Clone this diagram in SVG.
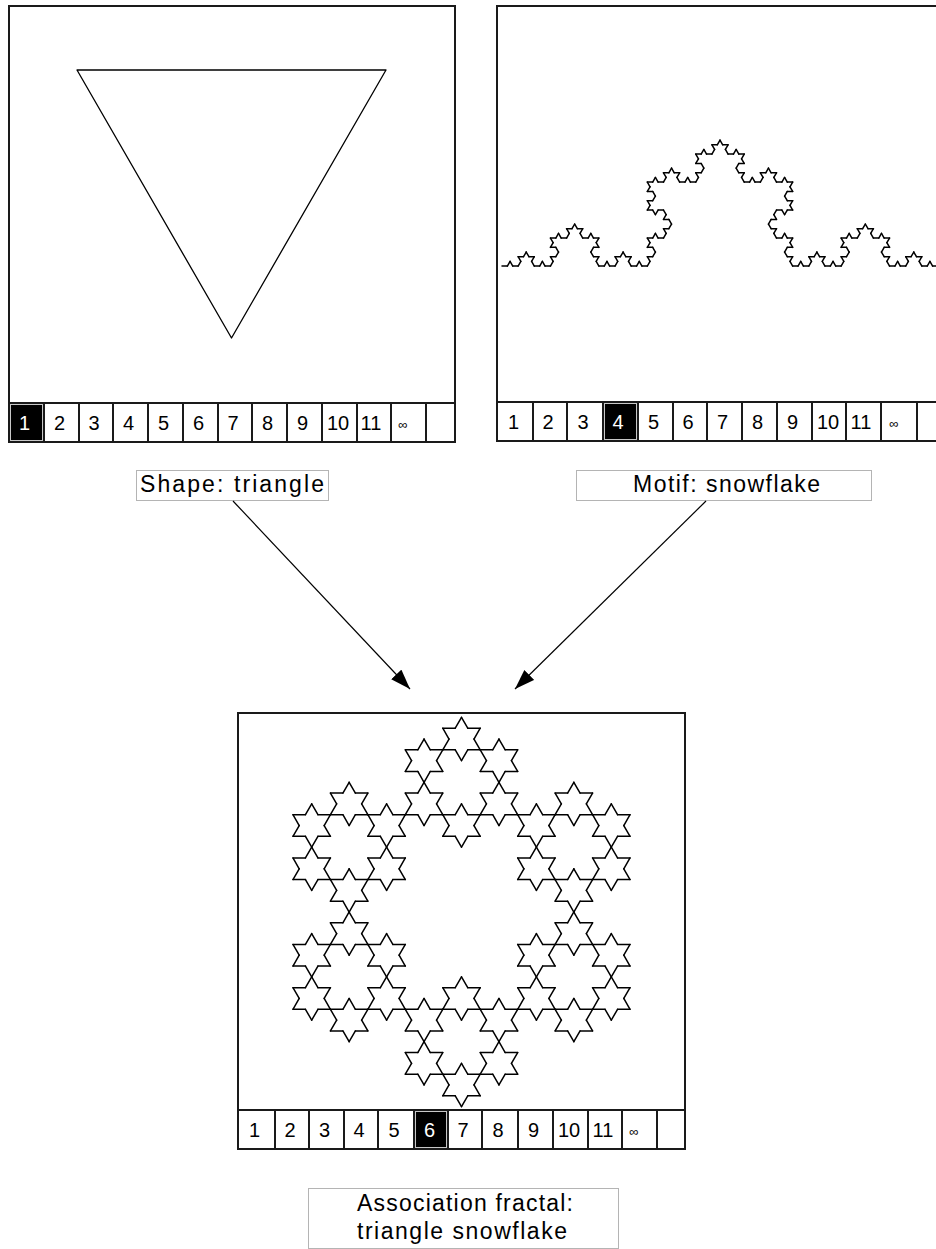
<svg xmlns="http://www.w3.org/2000/svg" xmlns:xlink="http://www.w3.org/1999/xlink" width="936" height="1249" viewBox="0 0 936 1249">
<style>
.panel{fill:#fff;stroke:#1a1a1a;stroke-width:2}
.bar{fill:#fff;stroke:#1a1a1a;stroke-width:2}
.div{stroke:#1a1a1a;stroke-width:2;fill:none}
.sel{fill:#000;stroke:#c8c8c8;stroke-width:1}
.num{font-family:"Liberation Sans",Arial,sans-serif;font-size:20px;fill:#000;text-anchor:middle}
.w{fill:#fff}
.inf{font-size:13px}
.lbl{fill:#fff;stroke:#b4b4b4;stroke-width:1}
.lt{font-family:"Liberation Sans",Arial,sans-serif;font-size:23px;fill:#000}
.fr{fill:none;stroke:#000;stroke-width:1.3;stroke-linecap:round;stroke-linejoin:round}
.ns{fill:none;stroke:#000;stroke-width:1.5;stroke-linecap:round;vector-effect:non-scaling-stroke}
.con{stroke:#000;stroke-width:1.2;fill:none}
</style>
<defs>
<marker id="ah" markerUnits="userSpaceOnUse" markerWidth="22" markerHeight="16" refX="20" refY="7" orient="auto">
<path d="M0 0L20 7L0 14Z" fill="#000"/>
</marker>
<g id="k0"><path class="ns" d="M0 0H1"/></g>
<g id="k1"><use href="#k0" transform="scale(.3333333)"/><use href="#k0" transform="translate(.3333333 0) rotate(-60) scale(.3333333)"/><use href="#k0" transform="translate(.5 -.2886751) rotate(60) scale(.3333333)"/><use href="#k0" transform="translate(.6666667 0) scale(.3333333)"/></g>
<g id="k2"><use href="#k1" transform="scale(.3333333)"/><use href="#k1" transform="translate(.3333333 0) rotate(-60) scale(.3333333)"/><use href="#k1" transform="translate(.5 -.2886751) rotate(60) scale(.3333333)"/><use href="#k1" transform="translate(.6666667 0) scale(.3333333)"/></g>
<g id="k3"><use href="#k2" transform="scale(.3333333)"/><use href="#k2" transform="translate(.3333333 0) rotate(-60) scale(.3333333)"/><use href="#k2" transform="translate(.5 -.2886751) rotate(60) scale(.3333333)"/><use href="#k2" transform="translate(.6666667 0) scale(.3333333)"/></g>
<g id="k4"><use href="#k3" transform="scale(.3333333)"/><use href="#k3" transform="translate(.3333333 0) rotate(-60) scale(.3333333)"/><use href="#k3" transform="translate(.5 -.2886751) rotate(60) scale(.3333333)"/><use href="#k3" transform="translate(.6666667 0) scale(.3333333)"/></g>
<g id="star"><use href="#k1" transform="translate(-.8660254 -.5) scale(1.7320508)"/><use href="#k1" transform="translate(.8660254 -.5) rotate(120) scale(1.7320508)"/><use href="#k1" transform="translate(0 1) rotate(-120) scale(1.7320508)"/></g>
<g id="ring1"><use href="#star" transform="translate(0 -.6666667) scale(.3333333)"/><use href="#star" transform="translate(.5773503 -.3333333) scale(.3333333)"/><use href="#star" transform="translate(.5773503 .3333333) scale(.3333333)"/><use href="#star" transform="translate(0 .6666667) scale(.3333333)"/><use href="#star" transform="translate(-.5773503 .3333333) scale(.3333333)"/><use href="#star" transform="translate(-.5773503 -.3333333) scale(.3333333)"/></g>
<g id="ring2"><use href="#ring1" transform="translate(0 -.6666667) scale(.3333333)"/><use href="#ring1" transform="translate(.5773503 -.3333333) scale(.3333333)"/><use href="#ring1" transform="translate(.5773503 .3333333) scale(.3333333)"/><use href="#ring1" transform="translate(0 .6666667) scale(.3333333)"/><use href="#ring1" transform="translate(-.5773503 .3333333) scale(.3333333)"/><use href="#ring1" transform="translate(-.5773503 -.3333333) scale(.3333333)"/></g>
<clipPath id="clipR"><rect x="498" y="7" width="444" height="394"/></clipPath>
</defs>
<rect width="936" height="1249" fill="#fff"/>

<g id="shape-panel">
<rect class="panel" x="9" y="6" width="446" height="436"/>
<path class="fr" d="M77 70H386L231.5 338Z"/>
<rect class="bar" x="9" y="403" width="446" height="39"/>
<path class="div" d="M44 403V442M79 403V442M113 403V442M148 403V442M183 403V442M218 403V442M252 403V442M287 403V442M322 403V442M357 403V442M391 403V442M426 403V442"/>
<rect class="sel" x="10.5" y="404.5" width="32" height="36"/>
<text class="num w" x="24.5" y="430">1</text>
<text class="num" x="59.5" y="430">2</text>
<text class="num" x="94" y="430">3</text>
<text class="num" x="128.5" y="430">4</text>
<text class="num" x="163.5" y="430">5</text>
<text class="num" x="198.5" y="430">6</text>
<text class="num" x="233" y="430">7</text>
<text class="num" x="267.5" y="430">8</text>
<text class="num" x="302.5" y="430">9</text>
<text class="num" x="338" y="430">10</text>
<text class="num" x="371" y="430">11</text>
<text class="num inf" x="403" y="429">∞</text>
</g>

<g id="motif-panel">
<rect class="panel" x="497" y="6" width="446" height="435"/>
<g clip-path="url(#clipR)"><use href="#k4" transform="translate(502 266) scale(436)"/></g>
<rect class="bar" x="497" y="402" width="446" height="39"/>
<path class="div" d="M533 402V441M567 402V441M603 402V441M638 402V441M673 402V441M707 402V441M742 402V441M777 402V441M812 402V441M846 402V441M881 402V441M917 402V441"/>
<rect class="sel" x="604.5" y="403.5" width="32" height="36"/>
<text class="num" x="513.5" y="429">1</text>
<text class="num" x="548" y="429">2</text>
<text class="num" x="583" y="429">3</text>
<text class="num w" x="618" y="429">4</text>
<text class="num" x="653.5" y="429">5</text>
<text class="num" x="688" y="429">6</text>
<text class="num" x="722.5" y="429">7</text>
<text class="num" x="757.5" y="429">8</text>
<text class="num" x="792.5" y="429">9</text>
<text class="num" x="828" y="429">10</text>
<text class="num" x="861" y="429">11</text>
<text class="num inf" x="894" y="428">∞</text>
</g>

<g id="result-panel">
<rect class="panel" x="238" y="713" width="447" height="436"/>
<use href="#ring2" transform="translate(461.5 912) scale(194.6)"/>
<rect class="bar" x="238" y="1110" width="447" height="39"/>
<path class="div" d="M275 1110V1149M309 1110V1149M344 1110V1149M378 1110V1149M414 1110V1149M448 1110V1149M482 1110V1149M518 1110V1149M553 1110V1149M588 1110V1149M622 1110V1149M657 1110V1149"/>
<rect class="sel" x="415.5" y="1111.5" width="31" height="36"/>
<text class="num" x="254.5" y="1137">1</text>
<text class="num" x="290" y="1137">2</text>
<text class="num" x="324.5" y="1137">3</text>
<text class="num" x="359" y="1137">4</text>
<text class="num" x="394" y="1137">5</text>
<text class="num w" x="429.5" y="1137">6</text>
<text class="num" x="463" y="1137">7</text>
<text class="num" x="498" y="1137">8</text>
<text class="num" x="533.5" y="1137">9</text>
<text class="num" x="569" y="1137">10</text>
<text class="num" x="603" y="1137">11</text>
<text class="num inf" x="634" y="1136">∞</text>
</g>

<g id="label-shape">
<rect class="lbl" x="136.5" y="470.5" width="192" height="30"/>
<text class="lt" x="140" y="492" textLength="184" lengthAdjust="spacing">Shape: triangle</text>
</g>
<g id="label-motif">
<rect class="lbl" x="576.5" y="470.5" width="295" height="30"/>
<text class="lt" x="633" y="492" textLength="187" lengthAdjust="spacing">Motif: snowflake</text>
</g>
<g id="label-result">
<rect class="lbl" x="308.5" y="1188.5" width="310" height="60"/>
<text class="lt" x="357" y="1211" textLength="216" lengthAdjust="spacing">Association fractal:</text>
<text class="lt" x="357" y="1239" textLength="210" lengthAdjust="spacing">triangle snowflake</text>
</g>

<g id="connectors">
<path class="con" d="M233 501L410 689" marker-end="url(#ah)"/>
<path class="con" d="M706 501L515 689" marker-end="url(#ah)"/>
</g>
</svg>
